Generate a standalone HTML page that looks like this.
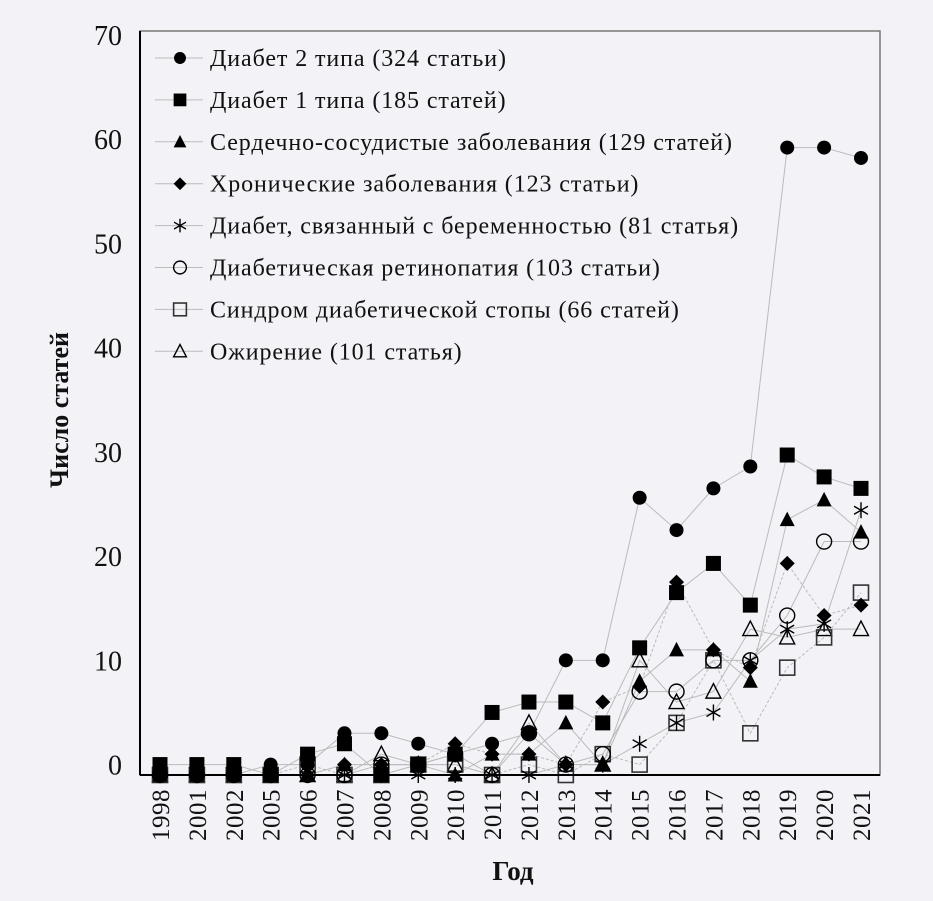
<!DOCTYPE html>
<html><head><meta charset="utf-8"><style>
html,body{margin:0;padding:0;background:#f3f2f7;}
svg text{font-family:"Liberation Serif",serif;fill:#111;}
</style></head><body>
<svg id="chart" width="933" height="896" viewBox="0 0 933 896" xmlns="http://www.w3.org/2000/svg">
<rect x="0" y="0" width="933" height="896" fill="#f3f2f7"/>
<rect x="140" y="31" width="740" height="744" fill="none" stroke="#777" stroke-width="1.5"/>
<g id="lines"></g>
<g id="marks"></g>
<line x1="140" y1="31" x2="140" y2="775" stroke="#000" stroke-width="2"/>
<line x1="140" y1="775" x2="880" y2="775" stroke="#000" stroke-width="2"/>
<g id="yticks"></g>
<g id="xticks"></g>
<g id="legend"></g>
<text x="513" y="880" text-anchor="middle" font-size="27" font-weight="bold">Год</text>
<text transform="translate(68,410) rotate(-90)" text-anchor="middle" font-size="26" font-weight="bold">Число статей</text>
</svg>
<script>
const years = ["1998","2001","2002","2005","2006","2007","2008","2009","2010","2011","2012","2013","2014","2015","2016","2017","2018","2019","2020","2021"];
const yTicks = [0,10,20,30,40,50,60,70];
const seriesNames = ["Диабет 2 типа (324 статьи)","Диабет 1 типа (185 статей)","Сердечно-сосудистые заболевания (129 статей)","Хронические заболевания (123 статьи)","Диабет, связанный с беременностью (81 статья)","Диабетическая ретинопатия (103 статьи)","Синдром диабетической стопы (66 статей)","Ожирение (101 статья)"];
const seriesMarkers = ["circle","square","triangle","diamond","asterisk","ocircle","osquare","otriangle"];
const dType2 = [-1,-1,-1,0,0,3,3,2,1,2,3,10,10,25.6,22.5,26.5,28.6,59.2,59.2,58.2];
const dType1 = [0,0,0,-1,1,2,-1,0,1,5,6,6,4,11.2,16.5,19.3,15.3,29.7,27.6,26.5];
const dCardio = [-1,-1,-1,-1,-1,0,0,0,-1,1,1,4,0,8,11,11,8,23.5,25.4,22.3];
const dChronic = [-1,-1,-1,-1,-1,0,0,0,2,1,1,0,6,7.5,17.5,11,9.3,19.3,14.3,15.3];
const dGestational = [-1,-1,-1,-1,-1,-1,-1,-1,-1,-1,-1,0,0,2,4,5,10,13,13.5,24.4];
const dRetina = [-1,-1,-1,-1,-1,-1,0,0,1,-1,3,0,1,7,7,10,10,14.3,21.4,21.4];
const dFoot = [-1,-1,-1,-1,0,-1,-1,0,0,-1,0,-1,1,0,4,10,3,9.3,12.2,16.5];
const dObesity = [-1,-1,-1,-1,-1,-1,1,0,0,-1,4,0,0,10,6,7,13,12.2,13,13];
const allSeries = [dType2,dType1,dCardio,dChronic,dGestational,dRetina,dFoot,dObesity];

const NS="http://www.w3.org/2000/svg";
const X0=160, X1=861, YMIN=-1, YMAX=70, YB=775, YT=35;
function xs(i){return X0+i*(X1-X0)/(years.length-1);}
function ys(v){return YB-(v-YMIN)*(YB-YT)/(YMAX-YMIN);}
function mk(tag,attrs,parent){const e=document.createElementNS(NS,tag);for(const k in attrs)e.setAttribute(k,attrs[k]);parent.appendChild(e);return e;}

function marker(type,cx,cy,parent,s){
  s=s||1;let e;
  if(type==="circle"){e=mk("circle",{cx:cx,cy:cy,r:7*s,fill:"#000"},parent);}
  else if(type==="ocircle"){e=mk("circle",{cx:cx,cy:cy,r:7.5*s,fill:"none",stroke:"#000","stroke-width":1.4},parent);}
  else if(type==="square"){e=mk("rect",{x:cx-7.5*s,y:cy-7.5*s,width:15*s,height:15*s,fill:"#000"},parent);}
  else if(type==="osquare"){e=mk("rect",{x:cx-7.5*s,y:cy-7.5*s,width:15*s,height:15*s,fill:"none",stroke:"#333","stroke-width":1.6},parent);}
  else if(type==="triangle"){e=mk("polygon",{points:`${cx},${cy-8*s} ${cx+7.5*s},${cy+6.5*s} ${cx-7.5*s},${cy+6.5*s}`,fill:"#000"},parent);}
  else if(type==="otriangle"){e=mk("polygon",{points:`${cx},${cy-8*s} ${cx+7.5*s},${cy+6.5*s} ${cx-7.5*s},${cy+6.5*s}`,fill:"none",stroke:"#000","stroke-width":1.4},parent);}
  else if(type==="diamond"){e=mk("polygon",{points:`${cx},${cy-7.5*s} ${cx+7.5*s},${cy} ${cx},${cy+7.5*s} ${cx-7.5*s},${cy}`,fill:"#000"},parent);}
  else {const d=8*s;e=mk("path",{d:`M${cx},${cy-d}V${cy+d}M${cx-d*0.87},${cy-d/2}L${cx+d*0.87},${cy+d/2}M${cx-d*0.87},${cy+d/2}L${cx+d*0.87},${cy-d/2}`,stroke:"#000","stroke-width":1.4,fill:"none"},parent);}
  return e;
}

const yt=document.getElementById("yticks");
yTicks.forEach(v=>{
  const t=mk("text",{x:122,y:ys(v)+10,"text-anchor":"end","font-size":"28"},yt);
  
  
  t.textContent=v;
});
const xt=document.getElementById("xticks");
years.forEach((y,i)=>{
  const t=mk("text",{transform:`translate(${xs(i)+9},${789}) rotate(-90)`,"text-anchor":"end","font-size":"25","letter-spacing":"0.5"},xt);
  
  
  t.textContent=y;
});
const lg=document.getElementById("lines"), mg=document.getElementById("marks");
allSeries.forEach((d,si)=>{
  const pts=d.map((v,i)=>xs(i)+","+ys(v)).join(" ");
  const pl=mk("polyline",{points:pts,fill:"none",stroke:"#bbb","stroke-width":1,"stroke-dasharray":(si===3||si===6)?"3,2":"none"},lg);
  
  
});
for(let si=allSeries.length-1;si>=0;si--){
  allSeries[si].forEach((v,i)=>{
    const m=marker(seriesMarkers[si],xs(i),ys(v),mg);
    
    
  });
}
const lgd=document.getElementById("legend");
seriesNames.forEach((n,i)=>{
  const y=58+i*41.9;
  const g=mk("g",{},lgd);
  
  
  mk("line",{x1:155,y1:y,x2:203,y2:y,stroke:"#bbb","stroke-width":1},g);
  marker(seriesMarkers[i],180,y,g,0.85);
  const t=mk("text",{x:210,y:y+8,"font-size":"24","letter-spacing":"0.9"},g);
  t.textContent=n;
});
</script>
</body></html>
